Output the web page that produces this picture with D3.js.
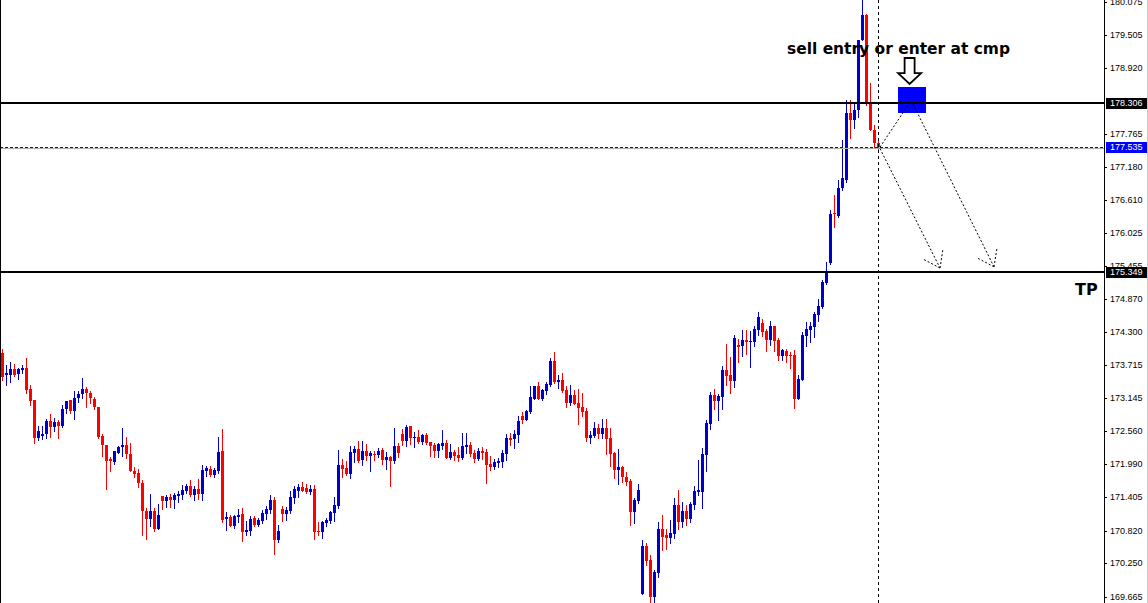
<!DOCTYPE html>
<html><head><meta charset="utf-8">
<script src="https://cdn.jsdelivr.net/npm/d3@7"></script>
<style>html,body{margin:0;padding:0;background:#fff;overflow:hidden}</style>
</head><body><svg id="c" width="1148" height="603"></svg>
<script>
const opens=[173.93,173.54,173.54,173.65,173.56,173.64,173.67,173.30,173.11,172.45,172.48,172.51,172.74,172.63,172.73,172.66,172.95,173.11,172.91,173.14,
173.21,173.31,173.23,173.13,172.99,172.48,172.33,172.07,172.03,172.19,172.28,172.32,172.17,171.87,171.83,171.65,171.17,171.03,171.17,170.85,
171.43,171.34,171.41,171.36,171.43,171.45,171.52,171.61,171.45,171.55,171.47,171.87,171.90,171.80,171.87,172.22,171.02,171.06,170.91,171.07,
171.11,170.80,170.82,171.05,170.92,171.00,171.12,171.19,171.36,170.66,171.20,171.12,171.17,171.40,171.52,171.59,171.57,171.50,171.55,170.82,
170.80,170.96,171.00,171.14,171.26,171.97,171.92,171.82,172.19,172.25,172.06,172.22,172.13,172.17,172.15,172.24,172.06,172.11,172.04,172.31,
172.52,172.39,172.66,172.45,172.46,172.38,172.50,172.38,172.32,172.22,172.31,172.36,172.10,172.20,172.15,172.10,172.29,172.32,172.18,172.08,
172.22,172.20,171.99,171.94,172.01,172.03,172.17,172.45,172.43,172.50,172.83,172.76,172.90,173.13,173.36,173.13,173.27,173.37,173.79,173.43,
173.46,173.29,173.06,173.20,173.06,172.99,172.92,172.45,172.48,172.62,172.52,172.62,172.45,172.18,171.89,171.94,171.77,171.69,171.15,171.34,
169.72,170.56,170.31,169.66,170.08,170.85,170.75,170.70,170.77,171.27,170.98,171.17,171.03,171.27,171.50,171.50,172.15,172.69,173.20,173.09,
173.16,173.64,173.55,173.44,174.07,174.06,174.16,174.13,174.13,174.34,174.46,174.32,174.16,174.41,174.16,173.88,173.97,173.90,173.90,173.13,
173.46,174.23,174.34,174.39,174.60,174.74,175.16,175.51,176.38,176.33,176.82,176.96,178.13,178.01,178.19,179.41,179.85,178.31,177.84,177.61];
const highs=[174.00,173.72,173.78,173.74,173.67,173.72,173.85,173.37,173.11,172.65,172.65,172.77,172.86,172.80,172.76,173.02,173.10,173.11,173.26,173.26,
173.50,173.34,173.27,173.17,172.99,172.52,172.33,172.12,172.22,172.31,172.62,172.47,172.36,171.94,171.90,171.71,171.22,171.46,171.22,171.29,
171.43,171.45,171.46,171.48,171.52,171.62,171.64,171.71,171.61,171.73,171.97,171.96,171.96,171.92,172.46,172.60,171.15,171.10,171.10,171.20,
171.22,170.99,171.08,171.08,171.05,171.19,171.26,171.45,171.41,170.92,171.26,171.23,171.52,171.61,171.64,171.68,171.64,171.62,171.62,170.98,
170.99,171.05,171.17,171.41,172.24,172.08,172.04,172.31,172.31,172.39,172.39,172.34,172.22,172.22,172.27,172.27,172.20,172.13,172.62,172.36,
172.60,172.68,172.66,172.55,172.59,172.52,172.53,172.38,172.36,172.36,172.59,172.41,172.34,172.24,172.29,172.53,172.53,172.38,172.24,172.27,
172.29,172.25,172.13,172.08,172.10,172.24,172.52,172.53,172.59,172.83,172.90,172.94,173.36,173.36,173.43,173.30,173.43,173.85,173.95,173.55,
173.58,173.36,173.37,173.29,173.30,173.23,172.97,172.57,172.73,172.69,172.78,172.78,172.62,172.20,172.25,171.96,171.85,171.73,171.40,171.64,
170.66,170.61,170.40,170.14,170.98,171.10,170.85,171.01,171.40,171.54,171.33,171.27,171.33,171.61,172.06,172.27,172.76,173.25,173.30,173.22,
173.71,174.09,173.86,174.25,174.18,174.34,174.34,174.32,174.41,174.65,174.53,174.35,174.49,174.41,174.20,174.00,174.00,173.95,173.99,173.55,
174.30,174.48,174.48,174.65,174.88,175.21,175.53,176.44,176.70,176.96,177.66,178.36,178.36,178.31,179.41,180.11,179.87,178.66,177.92,177.66];
const lows=[173.46,173.37,173.43,173.53,173.48,173.58,173.23,173.02,172.36,172.41,172.43,172.45,172.46,172.56,172.45,172.64,172.88,172.89,172.77,173.08,
173.14,172.99,173.06,172.96,172.45,172.13,171.56,171.87,171.99,172.18,172.13,172.09,171.86,171.77,171.59,170.75,170.68,170.91,170.81,170.85,
171.20,171.23,171.24,171.22,171.33,171.38,171.49,171.43,171.36,171.38,171.36,171.78,171.78,171.76,171.83,170.98,170.84,170.91,170.87,170.98,
170.65,170.75,170.75,170.91,170.91,170.96,171.03,171.13,170.42,170.63,171.00,171.01,171.14,171.31,171.42,171.51,171.48,171.47,170.68,170.74,
170.70,170.91,170.95,171.00,171.22,171.77,171.80,171.75,172.03,172.03,171.97,172.06,171.87,172.06,172.11,171.99,171.90,171.61,172.00,172.11,
172.33,172.31,172.34,172.29,172.36,172.34,172.34,172.13,172.11,172.11,172.25,172.10,172.08,172.06,172.04,172.08,172.18,172.13,172.03,172.06,
172.08,171.66,171.89,171.90,171.94,171.94,172.06,172.32,172.27,172.38,172.71,172.76,172.89,173.13,173.13,173.11,173.22,173.36,173.41,173.32,
173.25,172.99,173.02,173.04,172.69,172.83,172.39,172.36,172.46,172.45,172.45,172.17,171.96,171.75,171.64,171.68,171.62,170.93,170.96,171.30,
169.72,170.22,169.58,169.56,170.01,170.49,170.50,170.61,170.70,170.85,170.89,170.92,170.98,171.20,171.45,171.22,171.87,172.60,172.95,172.76,
172.95,173.37,173.23,173.34,173.78,173.88,173.92,173.69,174.06,174.25,174.23,173.97,174.07,173.97,173.81,173.81,173.78,173.67,172.97,173.13,
173.46,174.06,174.13,174.21,174.49,174.72,175.14,175.49,176.14,176.31,176.79,176.93,177.70,177.87,178.06,179.41,178.27,177.84,177.54,177.49];
const closes=[173.51,173.59,173.65,173.54,173.65,173.67,173.29,173.10,172.45,172.57,172.51,172.75,172.63,172.73,172.66,172.96,173.10,172.91,173.14,173.21,
173.30,173.23,173.14,172.98,172.47,172.32,172.05,172.05,172.21,172.29,172.32,172.16,171.86,171.82,171.65,171.17,171.03,171.17,170.85,171.10,
171.34,171.41,171.36,171.45,171.46,171.54,171.61,171.45,171.55,171.46,171.89,171.92,171.80,171.89,172.20,171.01,171.06,170.91,171.08,171.10,
170.80,170.84,171.03,170.92,171.01,171.14,171.20,171.36,170.66,170.82,171.12,171.19,171.42,171.55,171.59,171.52,171.50,171.55,170.80,170.80,
170.98,171.01,171.15,171.27,171.97,171.91,171.82,172.20,172.25,172.04,172.22,172.13,172.18,172.15,172.22,172.06,172.11,172.04,172.31,172.18,
172.39,172.64,172.45,172.46,172.38,172.50,172.36,172.31,172.22,172.34,172.36,172.10,172.20,172.13,172.10,172.31,172.32,172.17,172.08,172.22,
172.18,171.97,171.94,172.03,172.04,172.18,172.45,172.41,172.52,172.74,172.76,172.92,173.16,173.36,173.13,173.29,173.39,173.79,173.43,173.46,
173.27,173.06,173.20,173.04,172.97,172.90,172.45,172.50,172.62,172.52,172.62,172.43,172.17,171.89,171.94,171.77,171.68,171.15,171.36,171.54,
170.56,170.29,169.66,170.10,170.85,170.71,170.70,170.78,171.27,170.98,171.17,171.03,171.29,171.52,171.54,172.17,172.71,173.20,173.09,173.18,
173.64,173.53,173.44,174.20,174.04,174.16,174.13,174.14,174.35,174.56,174.30,174.16,174.41,174.14,173.88,173.99,173.88,173.88,173.13,173.48,
174.25,174.35,174.41,174.62,174.76,175.18,175.37,176.37,176.36,176.82,177.00,178.13,178.01,178.19,179.41,179.85,178.33,177.84,177.61,177.535];

const tickLabels=["180.075","179.505","178.920","177.765","177.180","176.610","176.025","175.455","174.870","174.300","173.715","173.145","172.560","171.990","171.405","170.820","170.250","169.665"];
const levelLines=[178.306,175.349];
const bidPrice=177.535;
const noteText="sell entry or enter at cmp";
const tpText="TP";
const entryBox={k0:224,k1:231,top:178.59,bottom:178.13};
const downArrow={k:226.9,top:179.095,neck:178.83,tip:178.64};
const projLines=[
 {k0:219.5,p0:177.535,k1:226.5,p1:178.27,head:false},
 {k0:227.75,p0:178.29,k1:248,p1:175.44,head:true},
 {k0:219.5,p0:177.51,k1:234.5,p1:175.42,head:true}
];

const W=1148,H=603,AX=1104;
const svg=d3.select('#c');
const x=d3.scaleLinear().domain([0,219]).range([2,878]);
const y=d3.scaleLinear().domain([169.61,180.11]).range([600,0]);
const BULL="#0000cd",BEAR="#ff0000";
const data=opens.map((o,i)=>({i,o,h:highs[i],l:lows[i],c:closes[i]}));

svg.append('rect').attr('width',W).attr('height',H).attr('fill','#fff');

const g=svg.append('g').attr('shape-rendering','crispEdges');
// candles
g.selectAll('line.w').data(data).enter().append('line')
 .attr('x1',d=>x(d.i)+0.5).attr('x2',d=>x(d.i)+0.5)
 .attr('y1',d=>Math.round(y(d.h))).attr('y2',d=>Math.round(y(d.l))+1)
 .attr('stroke',d=>d.c>=d.o?BULL:BEAR).attr('stroke-width',1);
g.selectAll('rect.b').data(data).enter().append('rect')
 .attr('x',d=>x(d.i)-1).attr('width',3)
 .attr('y',d=>Math.round(y(Math.max(d.o,d.c))))
 .attr('height',d=>Math.max(1,Math.round(y(Math.min(d.o,d.c)))-Math.round(y(Math.max(d.o,d.c)))))
 .attr('fill',d=>d.c>=d.o?BULL:BEAR);

// entry box
g.append('rect').attr('x',x(entryBox.k0)).attr('width',x(entryBox.k1)-x(entryBox.k0))
 .attr('y',Math.round(y(entryBox.top))).attr('height',Math.round(y(entryBox.bottom))-Math.round(y(entryBox.top)))
 .attr('fill','#0000ff');

// bid line
const by=Math.round(y(bidPrice));
g.append('line').attr('x1',0).attr('x2',AX).attr('y1',by+1.5).attr('y2',by+1.5).attr('stroke','#b0b0b0');
g.append('line').attr('x1',0).attr('x2',AX).attr('y1',by+0.5).attr('y2',by+0.5).attr('stroke','#0000ff').attr('stroke-dasharray','3,2');

// level lines
levelLines.forEach(v=>{
 g.append('rect').attr('x',0).attr('width',AX).attr('y',Math.round(y(v))-1).attr('height',2).attr('fill','#000');
});

// vertical dashed line at last bar
g.append('line').attr('x1',x(219)+0.5).attr('x2',x(219)+0.5).attr('y1',0).attr('y2',H)
 .attr('stroke','#000').attr('stroke-dasharray','3,3');

// projection lines
const pg=svg.append('g').attr('stroke','#000').attr('stroke-width',1).attr('fill','none').attr('stroke-dasharray','2,2');
projLines.forEach(L=>{
 const x0=x(L.k0),y0=y(L.p0),x1=x(L.k1),y1=y(L.p1);
 pg.append('line').attr('x1',x0).attr('y1',y0).attr('x2',x1).attr('y2',y1);
 if(L.head){
  const a=Math.atan2(y0-y1,x0-x1),len=19,sp=0.62;
  [a-sp,a+sp].forEach(b=>{
   pg.append('line').attr('x1',x1).attr('y1',y1).attr('x2',x1+len*Math.cos(b)).attr('y2',y1+len*Math.sin(b));
  });
 }
});

// hollow down arrow
const ax=x(downArrow.k),at=y(downArrow.top),an=y(downArrow.neck),ap=y(downArrow.tip);
svg.append('path')
 .attr('d',`M${ax-5},${at} L${ax+5},${at} L${ax+5},${an} L${ax+11.5},${an} L${ax},${ap} L${ax-11.5},${an} L${ax-5},${an} Z`)
 .attr('fill','#fff').attr('stroke','#000').attr('stroke-width',1.8).attr('stroke-linejoin','miter');

// texts
svg.append('text').attr('x',787).attr('y',54).attr('font-family','DejaVu Sans, Verdana, sans-serif')
 .attr('font-weight','bold').attr('font-size',16).attr('textLength',223).attr('lengthAdjust','spacingAndGlyphs')
 .attr('fill','#000').text(noteText);
svg.append('text').attr('x',1075).attr('y',295).attr('font-family','DejaVu Sans, Verdana, sans-serif')
 .attr('font-weight','bold').attr('font-size',16).attr('fill','#000').text(tpText);

// borders / axis
g.append('line').attr('x1',0.5).attr('x2',0.5).attr('y1',0).attr('y2',H).attr('stroke','#000');
g.append('line').attr('x1',AX+0.5).attr('x2',AX+0.5).attr('y1',0).attr('y2',H).attr('stroke','#000');
g.append('line').attr('x1',W-0.5).attr('x2',W-0.5).attr('y1',0).attr('y2',H).attr('stroke','#c8c8c8');

const ag=svg.append('g').attr('font-family','Liberation Sans, Arial, sans-serif').attr('font-size',9);
tickLabels.forEach(t=>{
 const ty=Math.round(y(+t));
 ag.append('line').attr('x1',AX).attr('x2',AX+3).attr('y1',ty+0.5).attr('y2',ty+0.5).attr('stroke','#000').attr('shape-rendering','crispEdges');
 ag.append('text').attr('x',1110).attr('y',ty).attr('dy','0.35em').attr('fill','#000').text(t);
});
// highlighted price labels
[[levelLines[0],'#000'],[bidPrice,'#0000ff'],[levelLines[1],'#000']].forEach(([v,col])=>{
 const ty=Math.round(y(v));
 ag.append('rect').attr('x',1106).attr('width',41).attr('y',ty-5).attr('height',11).attr('fill',col).attr('shape-rendering','crispEdges');
 ag.append('text').attr('x',1110).attr('y',ty).attr('dy','0.35em').attr('fill','#fff').text(d3.format('.3f')(v));
});
</script>
</body></html>
